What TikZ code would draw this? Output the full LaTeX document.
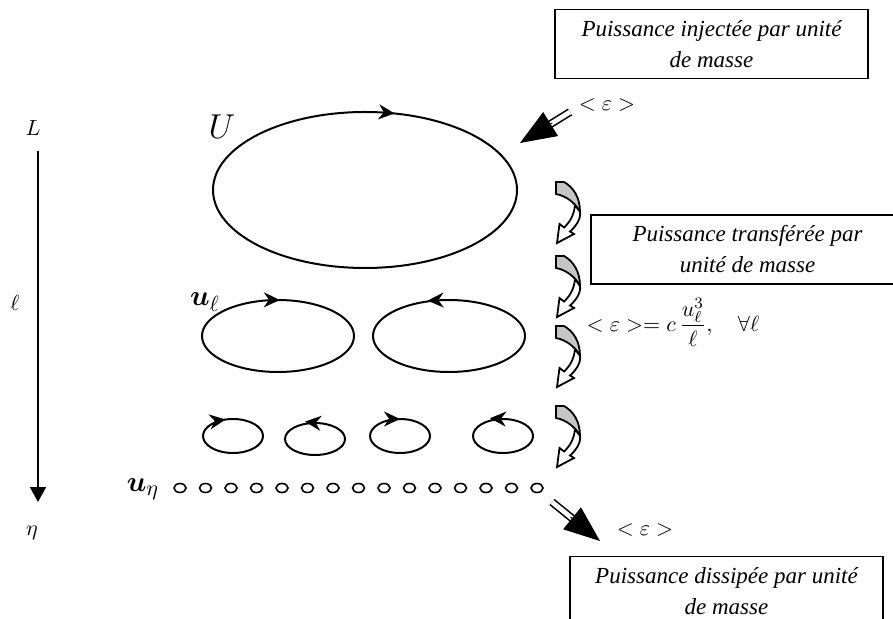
\documentclass[tikz,border=0pt]{standalone}
\usepackage{fontspec}
\setmainfont{Liberation Serif}
\usepackage{amsmath,bm}
\usetikzlibrary{arrows.meta,decorations.markings,calc}

\begin{document}
\begin{tikzpicture}[
        x=0.5pt, y=-0.5pt,
        every node/.style={inner sep=1pt, font=\fontsize{11}{13}\selectfont},
        box/.style={draw, line width=0.8pt, minimum width=156.5pt, minimum height=34.5pt,
            align=center, font=\fontsize{11.5}{15.5}\selectfont\itshape},
        eddy/.style={line width=1pt},
        spin/.style={postaction={decorate}, decoration={markings,
            mark=at position #1 with {\arrow{Stealth[length=8pt,width=7.5pt]}}}},
        antispin/.style={postaction={decorate}, decoration={markings,
            mark=at position #1 with {\arrow{Stealth[length=8pt,width=7.5pt,reversed]}}}},
        feed/.style={double, double distance=2.4pt, line width=0.8pt, shorten >=16pt},
        feedhead/.style={line width=0.5pt, -{Triangle[length=18pt,width=14pt]}},
        swirl/.pic={
            \filldraw[fill=gray!45, line width=0.9pt] (0,0) -- (8,0)
                .. controls (17,5) and (24,15) .. (24,30)
                .. controls (20,22) and (11,14) .. (0,12) -- cycle;
            \filldraw[fill=white, line width=0.9pt] (24,30)
                .. controls (25,38) and (19,45) .. (14,49.5) -- (18,52) -- (1,61)
                -- (3.5,42) -- (8,45.5) .. controls (13,41) and (18,34) .. (19,23) -- cycle;
        }
    ]
    \useasboundingbox (0,0) rectangle (893,619);
    \clip (0,0) rectangle (893,619);

    % scale axis
    \node (L) at (33,128) {$L$};
    \node (ell) at (15,303) {$\ell$};
    \node (eta) at (32,533) {$\eta$};
    \coordinate (axtop) at (38,151);
    \coordinate (axbot) at (38,502);
    \draw[line width=1pt, -{Triangle[length=7.5pt,width=8pt]}] (axtop) -- (axbot);

    % eddies
    \draw[eddy, spin=0.79] (365,190) ellipse [x radius=152, y radius=78];
    \node (U) at (222,127) {\fontsize{17}{20}\selectfont$U$};

    \draw[eddy, spin=0.755] (278,336) ellipse [x radius=76, y radius=36];
    \draw[eddy, antispin=0.735] (449,336) ellipse [x radius=76, y radius=36];
    \node (ul) at (205,302) {\fontsize{15}{18}\selectfont$\bm{u}_{\ell}$};

    \draw[eddy, spin=0.70] (233,436) ellipse [x radius=30, y radius=17];
    \draw[eddy, antispin=0.79] (315,439) ellipse [x radius=30, y radius=16];
    \draw[eddy, spin=0.75] (400,436) ellipse [x radius=30, y radius=17];
    \draw[eddy, antispin=0.77] (503,436) ellipse [x radius=30, y radius=17];

    \foreach \i in {0,...,14}
        \draw[line width=0.8pt] (180+25.5*\i,488) ellipse [x radius=6, y radius=4.5];
    \node (ueta) at (143,489) {\fontsize{15}{18}\selectfont$\bm{u}_{\eta}$};

    % cascade
    \pic at (556,182) {swirl};
    \pic at (556,256) {swirl};
    \pic at (556,326) {swirl};
    \pic at (556,406) {swirl};
    \node (cascade) at (673,322) {$<\varepsilon>= c\,\dfrac{u_{\ell}^{3}}{\ell},\quad\forall\ell$};

    % injection and dissipation
    \node[box] (inj) at (711.5,44) {Puissance injectée par unité\\de masse};
    \node (epsin) at (607,105) {$<\varepsilon>$};
    \coordinate (injA) at (570,112);
    \coordinate (injB) at (520,143);
    \draw[feed] (injA) -- (injB);
    \draw[feedhead] ($(injB)!19pt!(injA)$) -- (injB);

    \node[box] (trans) at (747.5,249.5) {Puissance transférée par\\unité de masse};

    \coordinate (dissA) at (552,502);
    \coordinate (dissB) at (600,541);
    \draw[feed] (dissA) -- (dissB);
    \draw[feedhead] ($(dissB)!19pt!(dissA)$) -- (dissB);
    \node (epsout) at (645,530) {$<\varepsilon>$};
    \node[box] (diss) at (726.5,591) {Puissance dissipée par unité\\de masse};
\end{tikzpicture}
\end{document}
